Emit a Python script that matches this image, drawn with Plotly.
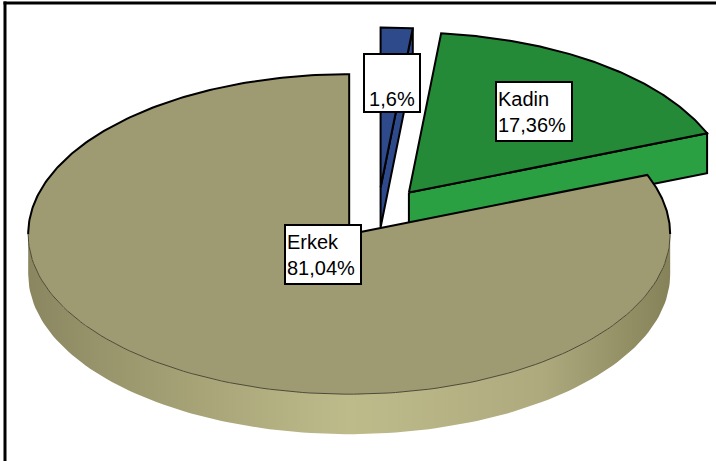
import numpy as np
import plotly.graph_objects as go

# Share of employees by gender (%)
labels = ["", "Kadin", "Erkek"]
values = [1.6, 17.36, 81.04]

top_colors = ["#2e4a8a", "#248a37", "#9e9a71"]
wall_colors = ["#2e4a8a", "#2aa042", "#9e9a71"]
# anchor (box centre) of each data label, in pixels
label_pos = [(392, 83), (534, 111.5), (322.5, 254.5)]

W, H = 716, 461
CX, CY = 378, 213        # pie centre
RX, RY = 321, 160        # ellipse radii of the tilted pie
DEPTH = 40               # thickness of the pie
EXPLODE = 0.16           # slice explosion as a fraction of the radius


def arc(cx, cy, a0, a1, n=120):
    t = np.radians(np.linspace(a0, a1, n))
    return cx + RX * np.sin(t), cy - RY * np.cos(t)


def fmt(v):
    return f"{v:g}".replace(".", ",") + "%"


fig = go.Figure()

total = sum(values)
angles = np.concatenate([[0], np.cumsum(values) / total * 360])

# draw back slices first, the large front slice last
order = [0, 1, 2]
for i in order:
    a0, a1 = angles[i], angles[i + 1]
    mid = np.radians((a0 + a1) / 2)
    ax = CX + EXPLODE * RX * np.sin(mid)
    ay = CY - EXPLODE * RY * np.cos(mid)

    # outer cylinder wall (front half only)
    w0, w1 = max(a0, 90), min(a1, 270)
    if w1 > w0:
        xt, yt = arc(ax, ay, w0, w1)
        xs = np.concatenate([xt, xt[::-1]])
        ys = np.concatenate([yt, yt[::-1] + DEPTH])
        fig.add_trace(go.Scatter(
            x=xs, y=ys, mode="lines", fill="toself",
            fillcolor=wall_colors[i], line=dict(width=0),
            fillgradient=dict(
                type="horizontal",
                colorscale=[[0, "#8a8660"], [0.15, "#9c986e"], [0.5, "#bebb8b"],
                            [0.8, "#aeaa7e"], [1, "#858259"]]),
            hoverinfo="skip", showlegend=False))

    # radial cut faces that turn towards the viewer
    for edge, visible in ((a1, np.sin(np.radians(a1)) > 1e-6),
                          (a0, np.sin(np.radians(a0)) < -1e-6)):
        if visible:
            ex, ey = arc(ax, ay, edge, edge, 1)
            xs = [ax, ex[0], ex[0], ax, ax]
            ys = [ay, ey[0], ey[0] + DEPTH, ay + DEPTH, ay]
            fig.add_trace(go.Scatter(
                x=xs, y=ys, mode="lines", fill="toself",
                fillcolor=wall_colors[i], line=dict(color="black", width=2),
                hoverinfo="skip", showlegend=False))

    # top face
    xt, yt = arc(ax, ay, a0, a1)
    xs = np.concatenate([[ax], xt, [ax]])
    ys = np.concatenate([[ay], yt, [ay]])
    big = (a1 - a0) > 180
    fig.add_trace(go.Scatter(
        x=xs, y=ys, mode="lines", fill="toself", fillcolor=top_colors[i],
        line=dict(color="black", width=0 if big else 2),
        hoverinfo="skip", showlegend=False))

    if big:
        # heavy outline on the back rim and the radial edges
        xb1, yb1 = arc(ax, ay, 270, a1)
        xb2, yb2 = arc(ax, ay, a0, 90)
        fig.add_trace(go.Scatter(
            x=np.concatenate([xb2[::-1], [ax], xb1[::-1]]),
            y=np.concatenate([yb2[::-1], [ay], yb1[::-1]]),
            mode="lines", line=dict(color="black", width=2),
            hoverinfo="skip", showlegend=False))
        # fine line where the top meets the front wall
        xf, yf = arc(ax, ay, 90, 270)
        fig.add_trace(go.Scatter(
            x=xf, y=yf, mode="lines", line=dict(color="#4d4b38", width=1),
            hoverinfo="skip", showlegend=False))

# data labels
for i, (name, v) in enumerate(zip(labels, values)):
    px, py = label_pos[i]
    if name:
        fig.add_annotation(
            x=px, y=py, text=f"{name}<br>{fmt(v)}", showarrow=False,
            xanchor="center", yanchor="middle", align="left", valign="middle",
            width=72, height=55, borderpad=1, borderwidth=2,
            bordercolor="black", bgcolor="white",
            font=dict(family="Liberation Sans, Arial", size=20, color="black"))
    else:
        fig.add_annotation(
            x=px, y=py, text=fmt(v), showarrow=False,
            xanchor="center", yanchor="middle", align="center", valign="bottom",
            width=52, height=54, borderpad=1, borderwidth=2,
            bordercolor="black", bgcolor="white",
            font=dict(family="Liberation Sans, Arial", size=20, color="black"))

# chart frame (top and left edges)
fig.add_shape(type="line", x0=3.5, x1=W, y0=3, y1=3,
              line=dict(color="black", width=3))
fig.add_shape(type="line", x0=5, x1=5, y0=1.5, y1=H,
              line=dict(color="black", width=3))

fig.update_layout(
    width=W, height=H, margin=dict(l=0, r=0, t=0, b=0),
    paper_bgcolor="white", plot_bgcolor="white",
    xaxis=dict(range=[0, W], visible=False, fixedrange=True),
    yaxis=dict(range=[H, 0], visible=False, fixedrange=True),
    showlegend=False, hovermode=False,
)

fig.write_html("out.html")
